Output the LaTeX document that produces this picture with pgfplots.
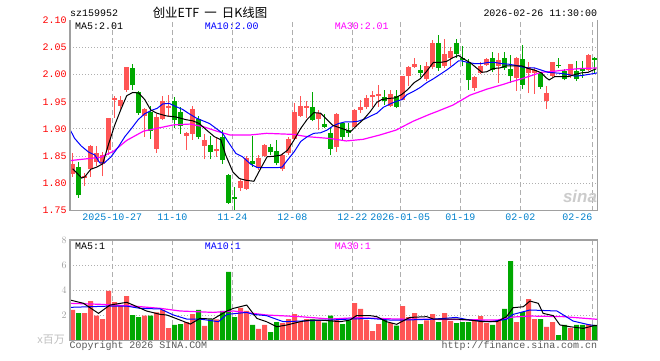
\documentclass[border=0pt]{standalone}
\usepackage{fontspec}
\setmainfont{Liberation Mono}
\setmonofont{Liberation Mono}
\setsansfont{Liberation Sans}
\newfontfamily\cjk{Noto Sans CJK SC}
\usepackage{pgfplots}
\pgfplotsset{compat=1.18}
\usepackage{pgfplotstable}
\definecolor{cred}{RGB}{255,85,85}
\definecolor{cgreen}{RGB}{0,168,0}
\definecolor{cgrid}{RGB}{175,175,175}
\definecolor{caxis}{RGB}{160,160,160}
\definecolor{ctick}{RGB}{0,128,204}
\definecolor{cpr}{RGB}{255,0,0}
\definecolor{cmag}{RGB}{255,0,255}
\definecolor{cvol}{RGB}{160,160,160}
\newcommand{\ff}{\fontsize{10}{12}\selectfont}

\pgfplotstableread{
i O H L C V
0 1.818 1.855 1.812 1.836 2.44
2 1.810 1.820 1.795 1.813 2.20
3 1.826 1.870 1.812 1.868 3.15
4 1.840 1.868 1.832 1.855 1.99
5 1.835 1.857 1.813 1.853 1.72
6 1.861 1.921 1.852 1.920 3.95
7 1.954 1.960 1.920 1.957 3.07
8 1.943 1.961 1.937 1.954 2.83
9 1.971 2.014 1.968 2.013 3.55
12 1.923 1.939 1.886 1.937 1.99
14 1.864 1.928 1.856 1.922 2.25
15 1.918 1.960 1.916 1.951 2.44
16 1.939 1.963 1.922 1.942 1.00
19 1.888 1.894 1.861 1.893 1.48
20 1.891 1.943 1.880 1.936 2.12
22 1.869 1.890 1.844 1.880 1.17
24 1.859 1.886 1.849 1.864 1.70
28 1.791 1.809 1.787 1.804 2.60
29 1.790 1.851 1.788 1.846 2.36
31 1.828 1.852 1.824 1.847 0.93
32 1.851 1.872 1.849 1.870 1.25
35 1.827 1.855 1.823 1.853 1.40
36 1.855 1.886 1.852 1.881 1.72
37 1.881 1.948 1.880 1.932 2.12
38 1.924 1.960 1.922 1.943 1.48
39 1.939 1.951 1.920 1.943 1.72
41 1.918 1.935 1.898 1.930 1.64
44 1.867 1.929 1.858 1.928 1.64
47 1.904 1.936 1.903 1.935 2.99
48 1.935 1.954 1.929 1.941 2.52
49 1.941 1.963 1.936 1.957 1.64
50 1.958 1.969 1.940 1.963 0.77
51 1.960 1.980 1.941 1.965 1.32
53 1.943 1.972 1.941 1.964 1.40
55 1.954 1.998 1.953 1.997 2.75
56 1.997 2.016 1.979 2.014 1.88
57 2.014 2.031 2.012 2.020 2.20
59 1.991 2.022 1.988 2.016 1.62
60 2.013 2.064 2.010 2.058 2.12
62 2.015 2.065 2.012 2.038 2.20
63 2.030 2.050 2.015 2.043 1.56
67 1.975 1.998 1.970 1.996 1.64
68 2.003 2.022 2.001 2.015 1.96
69 2.018 2.031 2.016 2.029 1.40
71 2.016 2.040 1.985 2.026 1.64
74 1.994 2.032 1.970 2.031 1.48
76 2.003 2.022 1.966 2.014 3.31
77 2.003 2.012 1.965 2.009 1.72
79 1.952 1.978 1.937 1.966 1.09
80 1.997 2.023 1.995 2.022 1.48
83 1.997 2.020 1.994 2.019 1.00
86 2.009 2.037 2.006 2.035 1.32
}\upT

\pgfplotstableread{
i O H L C V
1 1.830 1.839 1.774 1.778 2.20
10 2.011 2.019 1.971 1.980 2.04
11 1.968 1.970 1.926 1.930 1.88
13 1.931 1.942 1.882 1.896 1.99
17 1.952 1.959 1.901 1.917 1.25
18 1.932 1.941 1.891 1.906 1.32
21 1.918 1.924 1.881 1.886 2.44
23 1.870 1.887 1.844 1.858 1.70
25 1.886 1.898 1.836 1.843 2.36
26 1.815 1.818 1.762 1.765 5.46
27 1.776 1.793 1.747 1.771 1.88
30 1.842 1.887 1.830 1.836 1.25
33 1.866 1.873 1.852 1.857 0.69
34 1.859 1.880 1.833 1.838 1.48
40 1.941 1.967 1.914 1.917 1.70
42 1.910 1.928 1.901 1.903 1.43
43 1.892 1.904 1.852 1.864 1.99
45 1.911 1.912 1.880 1.885 1.32
46 1.898 1.911 1.885 1.893 1.62
52 1.959 1.971 1.944 1.952 1.64
54 1.961 1.971 1.938 1.941 1.19
58 2.008 2.018 1.995 2.003 1.32
61 2.057 2.072 2.007 2.012 1.48
64 2.058 2.066 2.030 2.037 1.40
65 2.030 2.052 2.015 2.027 1.48
66 2.023 2.029 1.972 1.989 1.48
70 2.031 2.041 2.004 2.009 1.25
72 2.031 2.041 2.008 2.011 2.52
73 2.010 2.035 1.985 1.997 6.33
75 2.028 2.055 1.973 1.980 2.28
78 2.002 2.004 1.973 1.977 1.72
81 2.018 2.031 2.012 2.016 0.45
82 2.006 2.010 1.989 1.991 1.25
84 2.006 2.025 1.988 1.991 1.25
85 2.010 2.025 1.994 2.006 1.25
87 2.031 2.032 2.002 2.027 1.25
}\downT

\pgfplotsset{
  kbase/.style={
    scale only axis, width=527.3bp,
    xmin=-0.45, xmax=87.43,
    axis line style={draw=none},
    major tick length=0pt,
    xtick={6.6,16.6,26.6,36.6,46.6,54.6,64.6,74.6,86.6},
    xmajorgrids, ymajorgrids,
    x grid style={cgrid, line width=1.2bp, dash pattern=on 5bp off 3bp},
    y grid style={cgrid, line width=1bp, dash pattern=on 1bp off 2bp},
  },
  wick/.style={draw=none, mark=none, forget plot,
    error bars/.cd, y dir=plus, y explicit, error mark=none,
    error bar style={draw=#1, line width=1bp}},
  body/.style={draw=none, mark=none, forget plot,
    error bars/.cd, y dir=plus, y explicit, error mark=none,
    error bar style={draw=#1, line width=5bp}},
}

\begin{document}
\begin{tikzpicture}[x=1bp,y=1bp]
\useasboundingbox (0,0) rectangle (660,360);

\begin{axis}[kbase, name=top, at={(70bp,149.3bp)}, anchor=south west, height=190.7bp,
  ymin=1.75, ymax=2.10,
  ytick={1.8,1.85,1.9,1.95,2,2.05},
  yticklabels={1.80,1.85,1.90,1.95,2.00,2.05},
  extra y ticks={1.75,2.1}, extra y tick labels={1.75,2.10},
  extra y tick style={grid=none},
  yticklabel style={font=\ff, text=cpr},
  xticklabels={2025-10-27,11-10,11-24,12-08,12-22,2026-01-05,01-19,02-02,\makebox[0pt][r]{02-26}},
  xticklabel style={font=\ff, text=ctick},
]
\addplot [wick=cred] table [x=i, y=L, y error expr=\thisrow{H}-\thisrow{L}] {\upT};
\addplot [body=cred] table [x=i, y=O, y error expr=\thisrow{C}-\thisrow{O}] {\upT};
\addplot [wick=cgreen] table [x=i, y=L, y error expr=\thisrow{H}-\thisrow{L}] {\downT};
\addplot [body=cgreen] table [x=i, y=C, y error expr=\thisrow{O}-\thisrow{C}] {\downT};

% MA30
\addplot [cmag, line width=1.2bp, mark=none] coordinates {
(-0.4,1.842) (4.6,1.848) (6.8,1.859) (9,1.879) (11.8,1.896) (16.8,1.9075) (19.6,1.909)
(21.8,1.904) (24,1.896) (26.2,1.889) (29.6,1.889) (32.3,1.892) (36.8,1.890) (39,1.886)
(42.9,1.8825) (45.6,1.878) (48.4,1.881) (51.2,1.889) (53.9,1.898) (56.7,1.914) (59.5,1.927)
(60.7,1.932) (63.4,1.944) (66.2,1.962) (69,1.973) (71.8,1.982) (72.9,1.986) (74.8,1.992)
(77,2.000) (78.1,2.004) (80.3,2.006) (82.6,2.009) (84.8,2.011) (87.4,2.012)};
% MA10
\addplot [blue, line width=1bp, mark=none] coordinates {
(-0.4,1.898) (0.3,1.883) (1.4,1.869) (2.6,1.858) (3.7,1.852) (4.5,1.838) (5.3,1.838)
(6.4,1.849) (7.6,1.867) (8.7,1.886) (9.8,1.901) (10.9,1.917) (12,1.928) (13.1,1.934)
(14.1,1.938) (15,1.946) (16.1,1.947) (17.2,1.941) (18.3,1.936) (19.4,1.928) (20.6,1.920)
(21.7,1.915) (22.8,1.910) (23.9,1.901) (25,1.892) (26.1,1.873) (27.2,1.855) (28.3,1.849)
(29.7,1.835) (30.8,1.829) (32,1.829) (33,1.829) (34.1,1.829) (34.9,1.830) (35.8,1.843)
(36.9,1.858) (38,1.877) (39.1,1.886) (40.2,1.892) (41.3,1.893) (42.4,1.898) (43.3,1.905)
(44.3,1.910) (45.4,1.913) (46.5,1.913) (47.5,1.914) (48.6,1.918) (49.7,1.924) (50.7,1.929)
(51.8,1.940) (52.9,1.946) (54,1.951) (54.9,1.954) (55.7,1.963) (56.8,1.969) (57.9,1.976)
(59,1.985) (60.1,1.992) (61.2,2.000) (62.3,2.008) (63.4,2.017) (64.3,2.025) (64.8,2.025)
(65.9,2.022) (67,2.020) (68.1,2.020) (69.2,2.022) (70.4,2.022) (71.5,2.020) (72.6,2.019)
(73.7,2.017) (74.8,2.014) (75.9,2.012) (77,2.012) (78.1,2.008) (79.2,2.004) (80.3,2.003)
(81.4,2.002) (82.6,2.000) (83.7,1.997) (84.8,1.998) (85.9,2.000) (87,2.002) (87.4,2.003)};
% MA5
\addplot [black, line width=1bp, mark=none] coordinates {
(0,1.827) (1.5,1.810) (2,1.812) (3,1.826) (4,1.830) (5,1.836) (6,1.873) (7,1.907)
(8,1.935) (9,1.961) (10,1.967) (11,1.966) (12,1.954) (13,1.935) (14,1.929) (15.6,1.924)
(17.2,1.922) (18.9,1.917) (20,1.915) (21.1,1.910) (22.2,1.899) (23.6,1.886) (24.7,1.880)
(25.5,1.852) (26.7,1.821) (27.8,1.809) (28.8,1.806) (30.2,1.804) (31.3,1.827) (32.4,1.849)
(33.6,1.850) (34.7,1.852) (35.8,1.861) (36.9,1.880) (38,1.901) (39.1,1.918) (40.2,1.930)
(41.3,1.929) (42.4,1.917) (43.3,1.907) (44.3,1.903) (45.4,1.899) (46.3,1.895) (47.4,1.907)
(48.5,1.918) (49.6,1.932) (50.7,1.949) (51.5,1.954) (52.6,1.956) (53.7,1.957) (54.8,1.963)
(55.8,1.972) (56.9,1.985) (57.9,1.992) (59,2.006) (60.1,2.022) (61.2,2.022) (62.3,2.024)
(63.4,2.031) (64.3,2.035) (65.1,2.029) (66.2,2.022) (67.3,2.012) (68.2,2.004) (69,2.005)
(70.1,2.011) (71.2,2.012) (72.3,2.016) (73.7,2.016) (74.8,2.016) (75.9,2.011) (77,2.008)
(78.1,2.003) (78.9,1.994) (79.4,1.990) (80.3,1.996) (81.4,1.996) (82.6,1.996) (83.7,2.000)
(84.8,2.003) (85.9,2.004) (86.7,2.008) (87.2,2.010)};
\end{axis}

\begin{axis}[kbase, name=vol, at={(70bp,19.3bp)}, anchor=south west, height=100.7bp,
  ymin=0, ymax=8,
  ytick={2,4,6}, extra y ticks={8}, extra y tick style={grid=none},
  yticklabel style={font=\sffamily\ff, text=cvol},
  xticklabels={{},{},{},{},{},{},{},{},{}},
]
\addplot [ybar, bar width=5bp, bar shift=0pt, fill=cred, draw=none] table [x=i, y=V] {\upT};
\addplot [ybar, bar width=5bp, bar shift=0pt, fill=cgreen, draw=none] table [x=i, y=V] {\downT};
% MA30 volume
\addplot [cmag, line width=1.2bp, mark=none] coordinates {
(-0.4,2.97) (4.6,2.89) (10.1,2.75) (14.6,2.57) (17.9,2.36) (23.4,2.25) (26.8,2.36)
(32.3,2.04) (37.9,1.91) (42.9,1.72) (47.3,1.83) (54,1.72) (59.5,1.70) (70.7,1.64)
(73.4,1.88) (76.2,1.96) (81.8,1.91) (87.4,1.70)};
% MA10 volume
\addplot [blue, line width=1bp, mark=none] coordinates {
(-0.4,2.65) (6.2,2.75) (9,2.75) (11.2,2.57) (14.6,2.52) (16.8,2.04) (19,1.72) (21.2,1.72)
(24.3,1.51) (25.7,2.09) (29,2.25) (30.1,2.09) (32.3,1.99) (35.1,1.51) (37.9,1.56) (41.2,1.62)
(42.9,1.64) (46.2,1.72) (49.6,1.77) (52.9,1.64) (55.1,1.64) (59.5,1.70) (61.8,1.77) (63.9,1.85)
(66.2,1.64) (69.6,1.51) (72.3,1.70) (73.4,2.09) (76.2,2.44) (80.7,2.36) (81.8,2.04) (83.4,1.56)
(86.2,1.25) (87.4,1.19)};
% MA5 volume
\addplot [black, line width=1bp, mark=none] coordinates {
(-0.4,3.23) (1.8,2.97) (4.3,2.17) (6.2,2.83) (9,3.05) (10.1,2.83) (12.3,2.36) (14.6,2.09)
(15.7,2.04) (17.9,1.64) (19.6,1.32) (21.2,1.77) (23.4,1.72) (25.7,2.36) (26.8,2.57) (29,2.83)
(30.7,1.77) (32.3,1.51) (34,1.11) (35.7,1.25) (37.9,1.51) (39.6,1.64) (41.2,1.64) (42.9,1.58)
(44.6,1.51) (46.2,1.64) (47.3,1.99) (49.6,1.99) (50.7,1.91) (52.3,1.51) (54,1.30) (54.8,1.51)
(56.2,1.85) (59,1.91) (60.1,1.72) (61.8,1.72) (63.9,1.72) (66.2,1.64) (68.4,1.51) (70.7,1.51)
(72.3,1.91) (73.4,2.62) (75.1,2.70) (76.2,3.15) (77.6,2.97) (78.4,2.17) (80.1,1.99) (81.2,1.25)
(82.9,1.11) (85.1,0.98) (86.8,1.19) (87.4,1.19)};
\end{axis}

% frames
\draw[caxis, line width=1.3bp] (top.north west) -- (top.south west) -- (top.south east) -- (top.north east);
\draw[caxis, line width=1.3bp] (vol.south west) rectangle (vol.north east);

% header
\node[anchor=west, inner sep=0] at (70,347) {\ff sz159952};
\node[inner sep=0] at (210,347) {\cjk\fontsize{12.5}{14}\selectfont 创业ETF\hspace{5bp}一\hspace{5bp}日K线图};
\node[anchor=east, inner sep=0] at (597.3,347) {\ff 2026-02-26 11:30:00};
% MA labels
\node[anchor=west, inner sep=0] at (75,334) {\ff MA5:2.01};
\node[anchor=west, inner sep=0, text=blue] at (204.7,334) {\ff MA10:2.00};
\node[anchor=west, inner sep=0, text=cmag] at (334.7,334) {\ff MA30:2.01};
\node[anchor=west, inner sep=0] at (75,113.3) {\ff MA5:1};
\node[anchor=west, inner sep=0, text=blue] at (204.7,113.3) {\ff MA10:1};
\node[anchor=west, inner sep=0, text=cmag] at (334.7,113.3) {\ff MA30:1};
% watermark
\node[text=black!20, font=\sffamily\bfseries\itshape\fontsize{17}{17}\selectfont] at (580,164) {sina};
% footer
\node[anchor=east, inner sep=0, text=black!25] at (65,20) {\sffamily\fontsize{11}{12}\selectfont x\cjk 百万};
\node[anchor=west, inner sep=0, text=black!65] at (69.5,14.3) {\ff Copyright 2026 SINA.COM};
\node[anchor=east, inner sep=0, text=black!65] at (597.3,14.3) {\ff http://finance.sina.com.cn};
\end{tikzpicture}
\end{document}
